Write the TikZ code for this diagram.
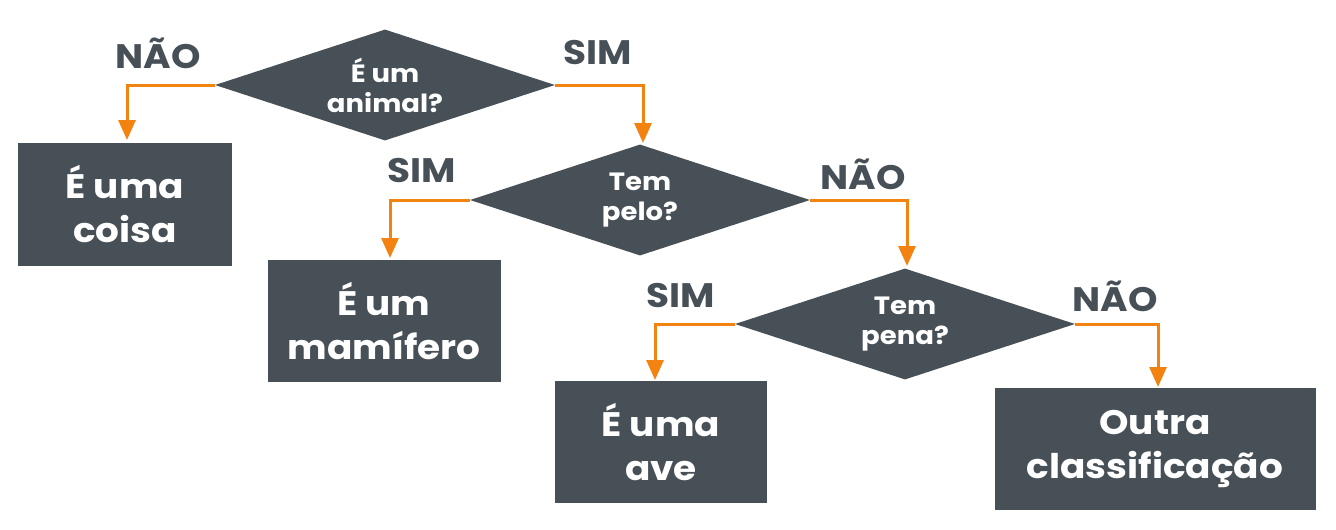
\documentclass[tikz,border=0pt]{standalone}
\usepackage{fontspec}
\setmainfont{Poppins}[FakeStretch=1.1]
\usetikzlibrary{shapes.geometric,arrows.meta}
\definecolor{slate}{HTML}{474F57}
\definecolor{lbl}{HTML}{474F57}
\definecolor{orng}{HTML}{F28311}
\begin{document}
\begin{tikzpicture}[x=1pt,y=-1pt,
  box/.style={rectangle,fill=slate,text=white,inner sep=0pt,align=center,
    font=\fontsize{34}{44}\selectfont\bfseries},
  quest/.style={diamond,fill=slate,text=white,inner sep=0pt,aspect=3,align=center,
    minimum width=340pt,minimum height=111pt,
    font=\fontsize{25}{30}\selectfont\bfseries},
  lab/.style={text=lbl,font=\fontsize{34}{36}\selectfont\bfseries},
  flow/.style={draw=orng,line width=3pt,-{Triangle[length=20pt,width=17pt]}}]
\useasboundingbox (0,0) rectangle (1336,530);
% decisions
\node[quest] (d1) at (385,85) {É um\\animal?};
\node[quest] (d2) at (640,200) {Tem\\pelo?};
\node[quest] (d3) at (905,324) {Tem\\pena?};
% results
\node[box,minimum width=214pt,minimum height=123pt] (c1) at (125,204) {É uma\\coisa};
\node[box,minimum width=233pt,minimum height=122pt] (c2) at (384,321) {É um\\mamífero};
\node[box,minimum width=212pt,minimum height=122pt] (c3) at (661,442) {É uma\\ave};
\node[box,minimum width=321pt,minimum height=122pt] (c4) at (1155,449) {Outra\\classificação};
% connectors
\coordinate (k1) at (127,140);
\coordinate (k2) at (643,143);
\coordinate (k3) at (390,258);
\coordinate (k4) at (907,266);
\coordinate (k5) at (655,380);
\coordinate (k6) at (1158,387);
\draw[flow] (d1.west) -| (k1);
\draw[flow] (d1.east) -| (k2);
\draw[flow] (d2.west) -| (k3);
\draw[flow] (d2.east) -| (k4);
\draw[flow] (d3.west) -| (k5);
\draw[flow] (d3.east) -| (k6);
% labels
\node[lab] (l1) at (158,53) {NÃO};
\node[lab] (l2) at (598,53) {SIM};
\node[lab] (l3) at (422,171) {SIM};
\node[lab] (l4) at (863,174) {NÃO};
\node[lab] (l5) at (681,296) {SIM};
\node[lab] (l6) at (1115,296) {NÃO};
\end{tikzpicture}
\end{document}
